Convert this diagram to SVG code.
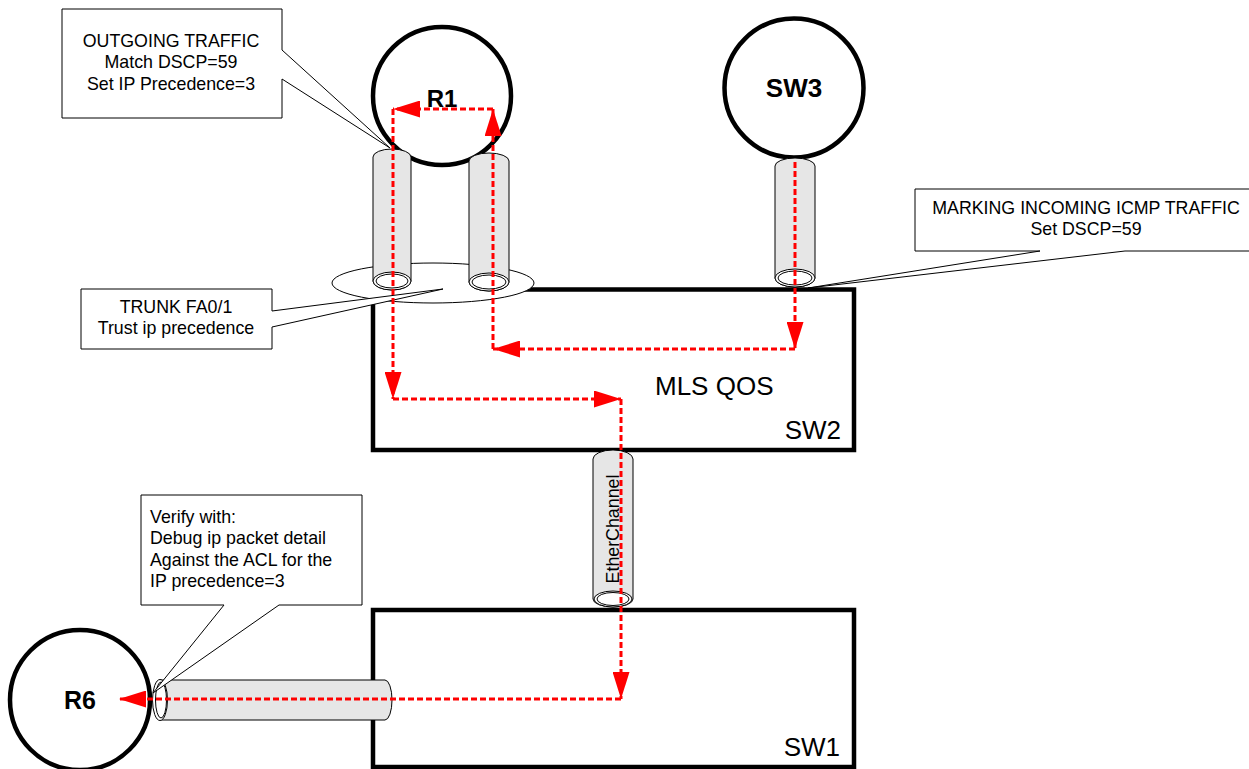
<svg xmlns="http://www.w3.org/2000/svg" width="1249" height="769" viewBox="0 0 1249 769">
<defs>
<style>
.sw{fill:#fff;stroke:#000;stroke-width:4.5}
.rt{fill:#fff;stroke:#000;stroke-width:4.5}
.lbl{font-family:"Liberation Sans",Arial,sans-serif;font-weight:bold;font-size:25px;fill:#000;text-anchor:middle}
.big{font-family:"Liberation Sans",Arial,sans-serif;font-size:26px;fill:#000}
.txt{font-family:"Liberation Sans",Arial,sans-serif;font-size:17.8px;fill:#000}
.cyl{fill:#e6e6e6;stroke:#000;stroke-width:1}
.hole{fill:#fff;stroke:#000;stroke-width:1}
.co{fill:#fff;stroke:#000;stroke-width:1}
.fl{fill:none;stroke:#ff0000;stroke-width:3;stroke-dasharray:6,3}
</style>
<marker id="ah" markerUnits="userSpaceOnUse" markerWidth="27" markerHeight="17" refX="27" refY="8.5" orient="auto">
<path d="M0,0 L27,8.5 L0,17 Z" fill="#ff0000"/>
</marker>
</defs>
<rect width="1249" height="769" fill="#fff"/>

<g id="SW2">
<rect class="sw" x="373" y="289.5" width="481" height="160.5"/>
<text class="big" x="655" y="395">MLS QOS</text>
<text class="big" x="841" y="439" text-anchor="end">SW2</text>
</g>
<g id="SW1">
<rect class="sw" x="373" y="610" width="481" height="157"/>
<text class="big" x="840" y="756" text-anchor="end">SW1</text>
</g>

<g id="trunk">
<ellipse class="co" cx="433" cy="283" rx="101" ry="20"/>
</g>

<g id="R1">
<circle class="rt" cx="442" cy="96" r="69"/>
<text class="lbl" x="442" y="107" style="font-size:24px">R1</text>
</g>
<g id="SW3">
<circle class="rt" cx="794" cy="88" r="69.5"/>
<text class="lbl" x="794" y="97" style="font-size:26px">SW3</text>
</g>
<g id="R6">
<circle class="rt" cx="80" cy="700" r="70"/>
<text class="lbl" x="80" y="709">R6</text>
</g>

<g id="links">
<g id="link-r1-a">
<path class="cyl" d="M373,157 A19,8 0 0 1 411,157 L411,281 A19,9 0 0 1 373,281 Z"/>
<ellipse class="hole" cx="392" cy="281" rx="19" ry="9"/>
<ellipse class="hole" cx="392" cy="281" rx="16" ry="7"/>
</g>
<g id="link-r1-b">
<path class="cyl" d="M469,161 A20,8 0 0 1 509,161 L509,282 A20,9 0 0 1 469,282 Z"/>
<ellipse class="hole" cx="489" cy="282" rx="20" ry="9"/>
<ellipse class="hole" cx="489" cy="282" rx="17" ry="7"/>
</g>
<g id="link-sw3">
<path class="cyl" d="M775,166 A20,8 0 0 1 815,166 L815,278 A20,9 0 0 1 775,278 Z"/>
<ellipse class="hole" cx="795" cy="278" rx="20" ry="9"/>
<ellipse class="hole" cx="795" cy="278" rx="17" ry="7"/>
</g>
<g id="link-etherchannel">
<path class="cyl" d="M593,459 A20,9 0 0 1 633,459 L633,599 A20,8 0 0 1 593,599 Z"/>
<ellipse class="hole" cx="613" cy="599" rx="19" ry="8"/>
<ellipse class="hole" cx="613" cy="599" rx="16" ry="6.5"/>
<text class="txt" transform="translate(619,529) rotate(-90)" text-anchor="middle">EtherChannel</text>
</g>
<g id="link-r6">
<path class="cyl" d="M160,680 L385,680 A7,20 0 0 1 385,720 L160,720 Z"/>
<ellipse class="hole" cx="160" cy="700" rx="7.5" ry="20.5"/>
<ellipse class="hole" cx="161" cy="700" rx="5.5" ry="18"/>
</g>
</g>

<g id="callout-outgoing">
<path class="co" d="M62,9 H282 V50 L390,148 L282,79 V118 H62 Z"/>
<text class="txt" x="171" y="47" text-anchor="middle">OUTGOING TRAFFIC</text>
<text class="txt" x="171" y="68" text-anchor="middle">Match DSCP=59</text>
<text class="txt" x="171" y="90" text-anchor="middle">Set IP Precedence=3</text>
</g>
<g id="callout-trunk">
<path class="co" d="M81,289 H272 V311 L443,289 L272,327 V349 H81 Z"/>
<text class="txt" x="176" y="313" text-anchor="middle">TRUNK FA0/1</text>
<text class="txt" x="176" y="334" text-anchor="middle">Trust ip precedence</text>
</g>
<g id="callout-marking">
<path class="co" d="M915,189 H1262 V251 H1125 L808,288 L1040,251 H915 Z"/>
<text class="txt" x="1086" y="214" text-anchor="middle">MARKING INCOMING ICMP TRAFFIC</text>
<text class="txt" x="1086" y="235" text-anchor="middle">Set DSCP=59</text>
</g>
<g id="callout-verify">
<path class="co" d="M141,495 H362 V605 H279 L153,693 L224,605 H141 Z"/>
<text class="txt" x="150" y="523">Verify with:</text>
<text class="txt" x="150" y="544">Debug ip packet detail</text>
<text class="txt" x="150" y="566">Against the ACL for the</text>
<text class="txt" x="150" y="587">IP precedence=3</text>
</g>

<g id="connectors">
<line class="fl" x1="795" y1="162" x2="795" y2="349" marker-end="url(#ah)"/>
<line class="fl" x1="795" y1="349" x2="493" y2="349" marker-end="url(#ah)"/>
<line class="fl" x1="493" y1="349" x2="493" y2="109" marker-end="url(#ah)"/>
<line class="fl" x1="493" y1="109" x2="393" y2="109" marker-end="url(#ah)"/>
<line class="fl" x1="393" y1="109" x2="393" y2="399" marker-end="url(#ah)"/>
<line class="fl" x1="393" y1="399" x2="621" y2="399" marker-end="url(#ah)"/>
<line class="fl" x1="621" y1="399" x2="621" y2="699" marker-end="url(#ah)"/>
<line class="fl" x1="621" y1="699" x2="119" y2="699" marker-end="url(#ah)"/>
</g>
</svg>
